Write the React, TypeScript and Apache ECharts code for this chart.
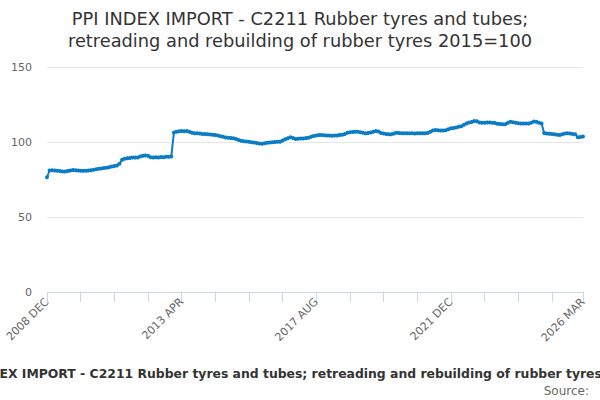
import { useEffect, useRef } from "react";
import * as echarts from "echarts";

const titleText =
  "PPI INDEX IMPORT - C2211 Rubber tyres and tubes;\nretreading and rebuilding of rubber tyres 2015=100";
const seriesName =
  "PPI INDEX IMPORT - C2211 Rubber tyres and tubes; retreading and rebuilding of rubber tyres 2015=100";

const monthNames = ["JAN", "FEB", "MAR", "APR", "MAY", "JUN", "JUL", "AUG", "SEP", "OCT", "NOV", "DEC"];
const startYear = 2008;
const startMonth = 11; // DEC

const yTicks = [0, 50, 100, 150];

// monthly index values, 2008 DEC .. 2026 MAR
const values2008 = [76.5];
const values2009 = [81.0, 81.2, 81.0, 80.8, 80.6, 80.3, 80.4, 80.7, 81.0, 81.3, 81.2, 81.0];
const values2010 = [80.9, 80.8, 80.9, 81.0, 81.2, 81.5, 81.8, 82.1, 82.4, 82.7, 82.9, 83.2];
const values2011 = [83.6, 84.0, 84.4, 85.5, 88.2, 88.8, 89.1, 89.3, 89.6, 89.7, 89.6, 90.3];
const values2012 = [90.9, 91.0, 90.8, 89.8, 89.6, 89.9, 89.7, 90.0, 89.9, 90.1, 90.2, 90.3];
const values2013 = [106.3, 106.9, 107.2, 107.3, 107.2, 107.3, 106.8, 106.2, 105.8, 105.8, 105.6, 105.4];
const values2014 = [105.3, 105.2, 105.0, 104.8, 104.6, 104.3, 103.9, 103.5, 103.0, 102.8, 102.7, 102.5];
const values2015 = [102.0, 101.3, 100.8, 100.5, 100.3, 100.1, 99.8, 99.6, 99.4, 99.0, 98.9, 99.2];
const values2016 = [99.5, 99.7, 99.9, 100.0, 100.1, 100.2, 101.0, 101.8, 102.5, 103.1, 102.6, 102.0];
const values2017 = [102.2, 102.4, 102.4, 102.7, 102.9, 103.5, 104.0, 104.3, 104.6, 104.7, 104.5, 104.4];
const values2018 = [104.3, 104.2, 104.3, 104.4, 104.6, 104.9, 105.3, 106.2, 106.5, 106.7, 106.9, 106.8];
const values2019 = [106.5, 106.2, 105.9, 106.0, 106.3, 106.8, 107.3, 107.0, 106.0, 105.6, 105.3, 105.1];
const values2020 = [105.2, 105.7, 106.2, 106.0, 105.8, 105.8, 105.9, 105.8, 105.8, 105.7, 105.8, 105.8];
const values2021 = [105.9, 105.8, 106.0, 106.8, 107.7, 108.0, 107.8, 107.6, 107.6, 107.8, 108.5, 109.1];
const values2022 = [109.4, 109.7, 110.2, 110.5, 111.5, 112.4, 113.0, 113.4, 114.0, 113.8, 113.0, 112.9];
const values2023 = [112.9, 113.0, 113.0, 112.8, 112.6, 112.2, 112.0, 111.8, 111.9, 112.8, 113.5, 113.2];
const values2024 = [112.8, 112.5, 112.4, 112.4, 112.3, 112.4, 112.9, 113.6, 113.5, 112.8, 112.3, 106.0];
const values2025 = [105.6, 105.5, 105.3, 105.2, 104.9, 104.7, 105.2, 105.6, 105.8, 105.6, 105.3, 105.2];
const values2026 = [103.2, 103.3, 103.6];

const values = [
  ...values2008, ...values2009, ...values2010, ...values2011, ...values2012, ...values2013,
  ...values2014, ...values2015, ...values2016, ...values2017, ...values2018, ...values2019,
  ...values2020, ...values2021, ...values2022, ...values2023, ...values2024, ...values2025,
  ...values2026,
];

const categories = values.map((_, i) => {
  const m = startMonth + i;
  return `${startYear + Math.floor(m / 12)} ${monthNames[m % 12]}`;
});

const FONT = "DejaVu Sans";
const LINE_COLOR = "#0b7cc4";

export default function App() {
  const containerRef = useRef<HTMLDivElement>(null);

  useEffect(() => {
    if (!containerRef.current) return;
    const chart = echarts.init(containerRef.current, null, { renderer: "svg" });
    const last = categories.length - 1;

    chart.setOption({
      animation: false,
      backgroundColor: "#ffffff",
      title: {
        text: titleText,
        left: "center",
        top: 7,
        padding: 0,
        textStyle: {
          fontFamily: FONT,
          fontSize: 17.8,
          fontWeight: "normal",
          color: "#333333",
          lineHeight: 22,
        },
      },
      grid: { left: 47, right: 17, top: 67, bottom: 108 },
      xAxis: {
        type: "category",
        data: categories,
        boundaryGap: false,
        axisLine: { lineStyle: { color: "#ccd6eb" } },
        axisTick: {
          length: 10,
          lineStyle: { color: "#ccd6eb" },
          interval: (index: number) => index % 13 === 0 || index === last,
        },
        axisLabel: {
          rotate: 45,
          margin: 8,
          color: "#666666",
          fontFamily: FONT,
          fontSize: 11,
          interval: (index: number) => index % 52 === 0 || index === last,
        },
      },
      yAxis: {
        type: "value",
        min: yTicks[0],
        max: yTicks[yTicks.length - 1],
        interval: 50,
        axisLine: { show: false },
        axisTick: { show: false },
        splitLine: { lineStyle: { color: "#e6e6e6" } },
        axisLabel: {
          color: "#666666",
          fontFamily: FONT,
          fontSize: 11,
          margin: 15,
        },
      },
      series: [
        {
          name: seriesName,
          type: "line",
          data: values,
          symbol: "circle",
          symbolSize: 4,
          showAllSymbol: true,
          itemStyle: { color: LINE_COLOR },
          lineStyle: { color: LINE_COLOR, width: 2 },
        },
      ],
      graphic: [
        {
          type: "text",
          x: 312,
          y: 373,
          style: {
            text: seriesName,
            textAlign: "center",
            textVerticalAlign: "middle",
            fontFamily: FONT,
            fontSize: 12.4,
            fontWeight: "bold",
            fill: "#333333",
          },
        },
        {
          type: "text",
          x: 589,
          y: 391,
          style: {
            text: "Source:",
            textAlign: "right",
            textVerticalAlign: "middle",
            fontFamily: FONT,
            fontSize: 12,
            fill: "#666666",
          },
        },
      ],
    });

    return () => {
      chart.dispose();
    };
  }, []);

  return (
    <div
      ref={containerRef}
      style={{ position: "fixed", left: 0, top: 0, width: "600px", height: "400px" }}
    />
  );
}
